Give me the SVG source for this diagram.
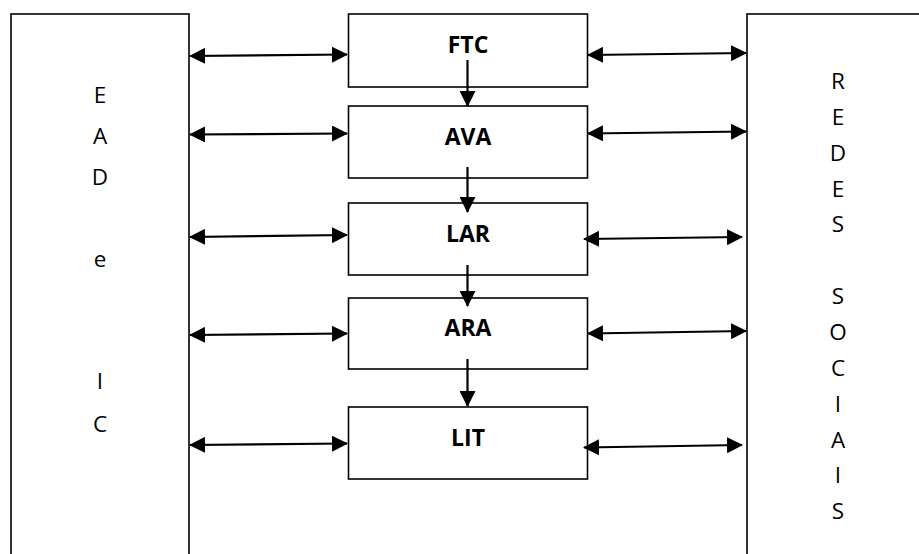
<svg xmlns="http://www.w3.org/2000/svg" width="919" height="554" viewBox="0 0 919 554">
<style>
.box{fill:#fff;stroke:#000;stroke-width:1.6}
.lbl{font-family:"Open Sans","Liberation Sans",sans-serif;font-weight:bold;font-size:23px;text-anchor:middle;fill:#000}
.col{font-family:"Open Sans","Liberation Sans",sans-serif;font-size:22.5px;text-anchor:middle;fill:#000}
.con{stroke:#000;stroke-width:2.2;fill:none}
</style>
<defs>
<marker id="ah" viewBox="0 0 16 16" refX="15" refY="8" markerWidth="16" markerHeight="16" markerUnits="userSpaceOnUse" orient="auto-start-reverse">
<path d="M0,0 L16,8 L0,16 z" fill="#000"/>
</marker>
</defs>
<rect width="919" height="554" fill="#fff"/>
<g id="ead">
<rect class="box" x="11" y="14" width="178" height="560"/>
<text class="col" x="100" y="103">E</text>
<text class="col" x="100" y="144">A</text>
<text class="col" x="100" y="185">D</text>
<text class="col" x="100" y="267">e</text>
<text class="col" x="100" y="389">I</text>
<text class="col" x="100" y="432">C</text>
</g>
<g id="redes">
<rect class="box" x="747" y="14" width="200" height="560"/>
<text class="col" x="838" y="89">R</text>
<text class="col" x="838" y="125">E</text>
<text class="col" x="838" y="161">D</text>
<text class="col" x="838" y="197">E</text>
<text class="col" x="838" y="232">S</text>
<text class="col" x="838" y="304">S</text>
<text class="col" x="838" y="340">O</text>
<text class="col" x="838" y="376">C</text>
<text class="col" x="838" y="412">I</text>
<text class="col" x="838" y="448">A</text>
<text class="col" x="838" y="483">I</text>
<text class="col" x="838" y="519">S</text>
</g>
<g id="ftc"><rect class="box" x="348.5" y="14" width="239" height="73"/><text class="lbl" x="468" y="53">FTC</text></g>
<g id="ava"><rect class="box" x="348.5" y="106" width="239" height="72"/><text class="lbl" x="468" y="145">AVA</text></g>
<g id="lar"><rect class="box" x="348.5" y="203" width="239" height="72"/><text class="lbl" x="468" y="242">LAR</text></g>
<g id="ara"><rect class="box" x="348.5" y="298" width="239" height="71"/><text class="lbl" x="468" y="336">ARA</text></g>
<g id="lit"><rect class="box" x="348.5" y="407" width="239" height="72"/><text class="lbl" x="468" y="446">LIT</text></g>
<g id="connectors">
<line class="con" x1="190" y1="56" x2="347" y2="54.5" marker-start="url(#ah)" marker-end="url(#ah)"/>
<line class="con" x1="190" y1="134.5" x2="347" y2="133.5" marker-start="url(#ah)" marker-end="url(#ah)"/>
<line class="con" x1="190" y1="237" x2="347" y2="235" marker-start="url(#ah)" marker-end="url(#ah)"/>
<line class="con" x1="190" y1="335" x2="347" y2="333.5" marker-start="url(#ah)" marker-end="url(#ah)"/>
<line class="con" x1="190" y1="445" x2="347" y2="443.5" marker-start="url(#ah)" marker-end="url(#ah)"/>
<line class="con" x1="588" y1="55" x2="746" y2="53" marker-start="url(#ah)" marker-end="url(#ah)"/>
<line class="con" x1="588" y1="133.5" x2="746" y2="131.5" marker-start="url(#ah)" marker-end="url(#ah)"/>
<line class="con" x1="584" y1="239" x2="742" y2="237" marker-start="url(#ah)" marker-end="url(#ah)"/>
<line class="con" x1="588" y1="333.5" x2="746" y2="331" marker-start="url(#ah)" marker-end="url(#ah)"/>
<line class="con" x1="584" y1="447.5" x2="742" y2="445" marker-start="url(#ah)" marker-end="url(#ah)"/>
<line class="con" x1="467.5" y1="60" x2="467.5" y2="106" marker-end="url(#ah)"/>
<line class="con" x1="467.5" y1="167" x2="467.5" y2="212" marker-end="url(#ah)"/>
<line class="con" x1="467.5" y1="265" x2="467.5" y2="306" marker-end="url(#ah)"/>
<line class="con" x1="467.5" y1="359" x2="467.5" y2="406" marker-end="url(#ah)"/>
</g>
</svg>
